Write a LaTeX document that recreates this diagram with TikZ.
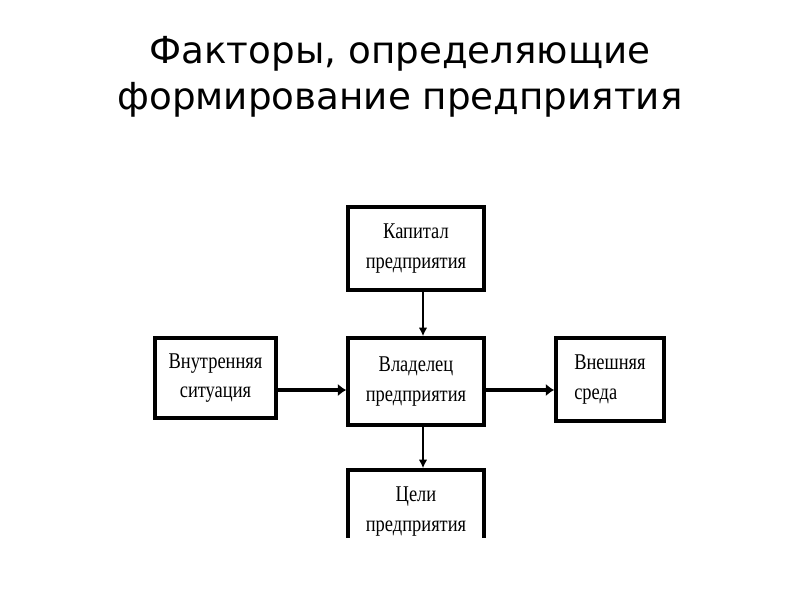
\documentclass[tikz,border=0pt]{standalone}
\usepackage{fontspec}
\setmainfont{Liberation Serif}
\newfontfamily\titlefont{DejaVu Sans}
\newfontfamily\boxfont[FakeStretch=0.82]{Liberation Serif}
\usetikzlibrary{arrows.meta}
\def\px{0.709pt} % one pixel of the slide
\begin{document}
\begin{tikzpicture}[x=0.025cm, y=-0.025cm,
        block/.style={draw, line width=2.8pt, align=center, inner sep=0pt,
            font=\boxfont\fontsize{16}{21}\selectfont},
        thin arrow/.style={-{Latex[length=6pt,width=6pt]}, line width=1pt},
        thick arrow/.style={-{Latex[length=6pt,width=9pt]}, line width=2.8pt}]
        \useasboundingbox (0,0) rectangle (800,600);

        \node[align=center, font=\titlefont\fontsize{26.5}{32.6}\selectfont] (title) at (400,77)
            {Факторы, определяющие\\формирование предприятия};

        \node[block, minimum width=136*\px, minimum height=83*\px] (capital) at (416,248.5)
            {Капитал\\предприятия};
        \node[block, minimum width=136*\px, minimum height=87*\px] (owner) at (416,381.5)
            {Владелец\\предприятия};
        \node[block, minimum width=121*\px, minimum height=80*\px] (inner) at (215.5,378)
            {Внутренняя\\ситуация};
        \node[block, minimum width=108*\px, minimum height=83*\px, align=left] (outer) at (610,379.5)
            {Внешняя\\среда};
        \begin{scope}
            \clip (0,0) rectangle (800,537);
            \node[block, minimum width=136*\px, minimum height=83*\px] (goals) at (416,511.5)
                {Цели\\предприятия};
        \end{scope}

        \coordinate (axis) at (423,0);
        \coordinate (row) at (0,390);
        \draw[thin arrow] (capital.south -| axis) -- (owner.north -| axis);
        \draw[thin arrow] (owner.south -| axis) -- (goals.north -| axis);
        \draw[thick arrow] (inner.east |- row) -- (owner.west |- row);
        \draw[thick arrow] (owner.east |- row) -- (outer.west |- row);
    \end{tikzpicture}
\end{document}
